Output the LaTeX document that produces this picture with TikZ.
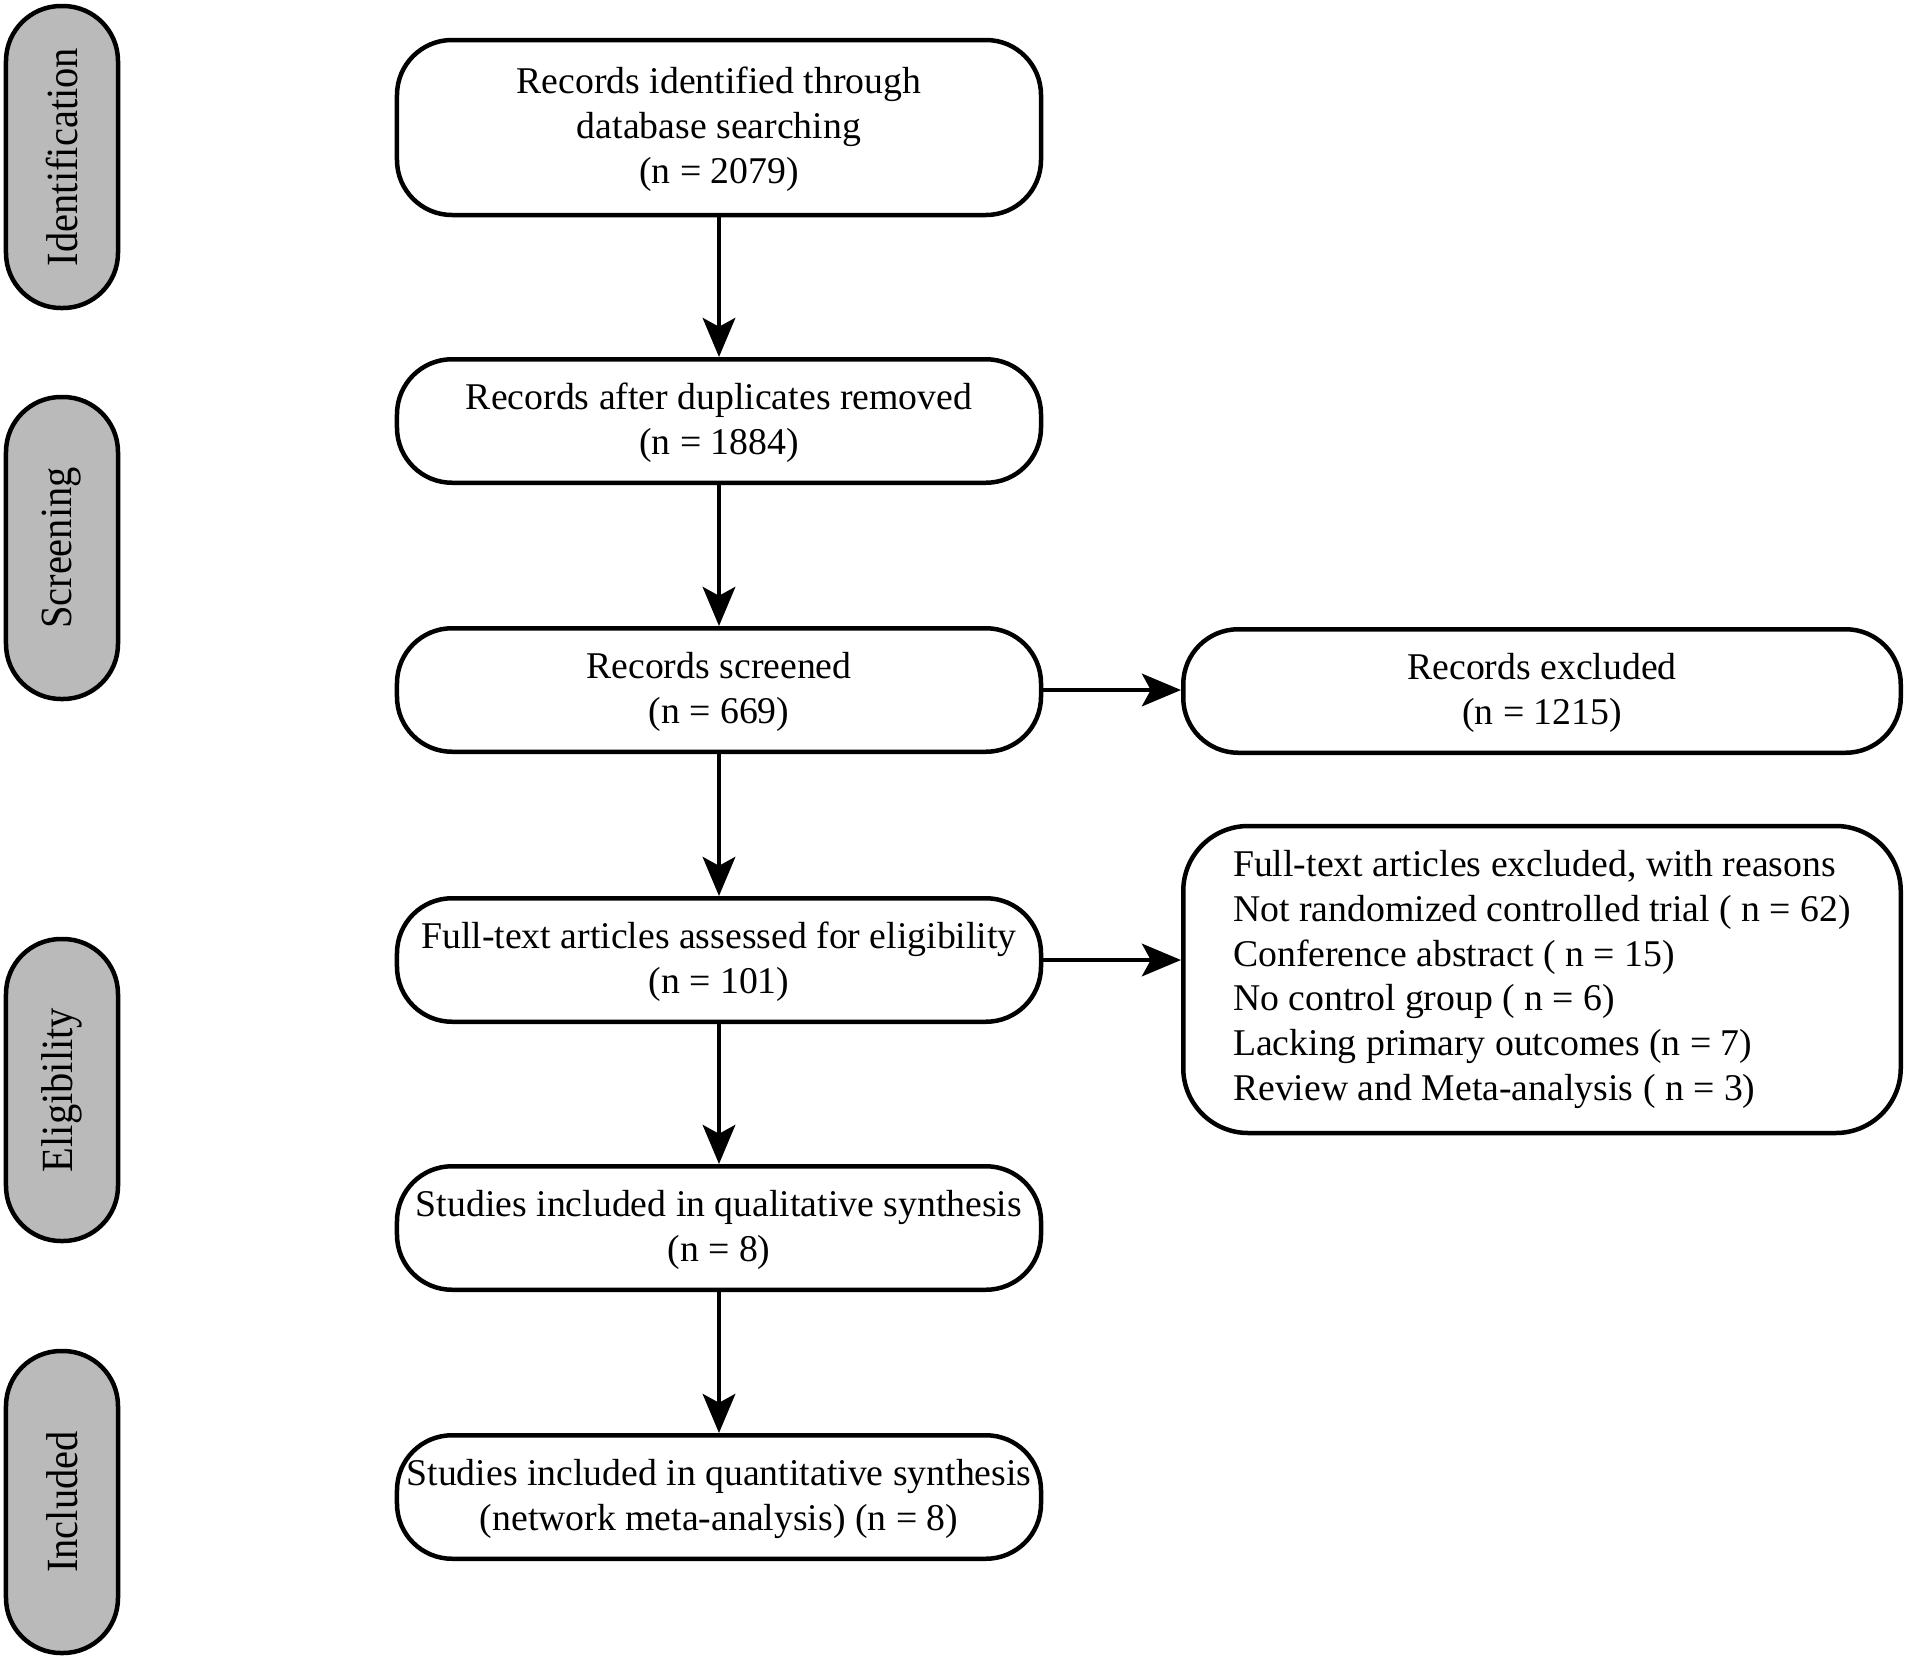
\documentclass[tikz,border=0pt]{standalone}
\usepackage{fontspec}
\setmainfont{Liberation Serif}
\usetikzlibrary{arrows.meta}
\definecolor{sidegray}{RGB}{186,186,186}
\begin{document}
\begin{tikzpicture}[x=0.4pt,y=-0.4pt,
  mainbox/.style={draw, line width=1.8pt, rounded corners=22pt, minimum width=257.6pt,
    minimum height=49.4pt, align=center, inner sep=0pt, font=\fontsize{15.1}{17.9}\selectfont},
  exbox/.style={mainbox, minimum width=287pt},
  sidebox/.style={draw, fill=sidegray, line width=1.8pt, rounded corners=22pt,
    minimum width=120.8pt, minimum height=44.8pt, inner sep=0pt, rotate=90,
    font=\fontsize{16.2}{19}\selectfont},
  arr/.style={line width=1.8pt, -{Stealth[length=15.6pt,width=13pt,inset=3.5pt]}}]
\useasboundingbox (0,0) rectangle (1907,1660);

% phase labels
\node[sidebox] (sid) at (62,157) {\scalebox{1}[1.1]{Identification}};
\node[sidebox] (sscr) at (62,548) {\scalebox{1}[1.1]{Screening}};
\node[sidebox] (selig) at (62,1090) {\scalebox{1}[1.1]{Eligibility}};
\node[sidebox] (sinc) at (62,1502) {\scalebox{1}[1.1]{Included}};

% main column
\node[mainbox, minimum height=70pt] (b1) at (719,127.5)
  {\rule{0pt}{12pt}Records identified through\\database searching\\(n = 2079)};
\node[mainbox] (b2) at (719,421) {\rule{0pt}{12pt}Records after duplicates removed\\(n = 1884)};
\node[mainbox] (b3) at (719,690) {\rule{0pt}{12pt}Records screened\\(n = 669)};
\node[mainbox] (b4) at (719,960) {\rule{0pt}{12pt}Full-text articles assessed for eligibility\\(n = 101)};
\node[mainbox] (b5) at (719,1228) {\rule{0pt}{12pt}Studies included in qualitative synthesis\\(n = 8)};
\node[mainbox] (b6) at (719,1497) {\rule{0pt}{12pt}Studies included in quantitative synthesis\\(network meta-analysis) (n = 8)};

% right column
\node[exbox] (r1) at (1542,691) {\rule{0pt}{12pt}Records excluded\\(n = 1215)};
\node[exbox, minimum height=122.8pt, rounded corners=26pt, align=left] (r2) at (1542,979.5)
  {Full-text articles excluded, with reasons\\
   Not randomized controlled trial ( n = 62)\\
   Conference abstract ( n = 15)\\
   No control group ( n = 6)\\
   Lacking primary outcomes (n = 7)\\
   Review and Meta-analysis ( n = 3)};

% connectors
\draw[arr] (b1) -- (b2);
\draw[arr] (b2) -- (b3);
\draw[arr] (b3) -- (b4);
\draw[arr] (b4) -- (b5);
\draw[arr] (b5) -- (b6);
\draw[arr] (b3.east) -- (b3.east -| r1.west);
\draw[arr] (b4.east) -- (b4.east -| r2.west);
\end{tikzpicture}
\end{document}
